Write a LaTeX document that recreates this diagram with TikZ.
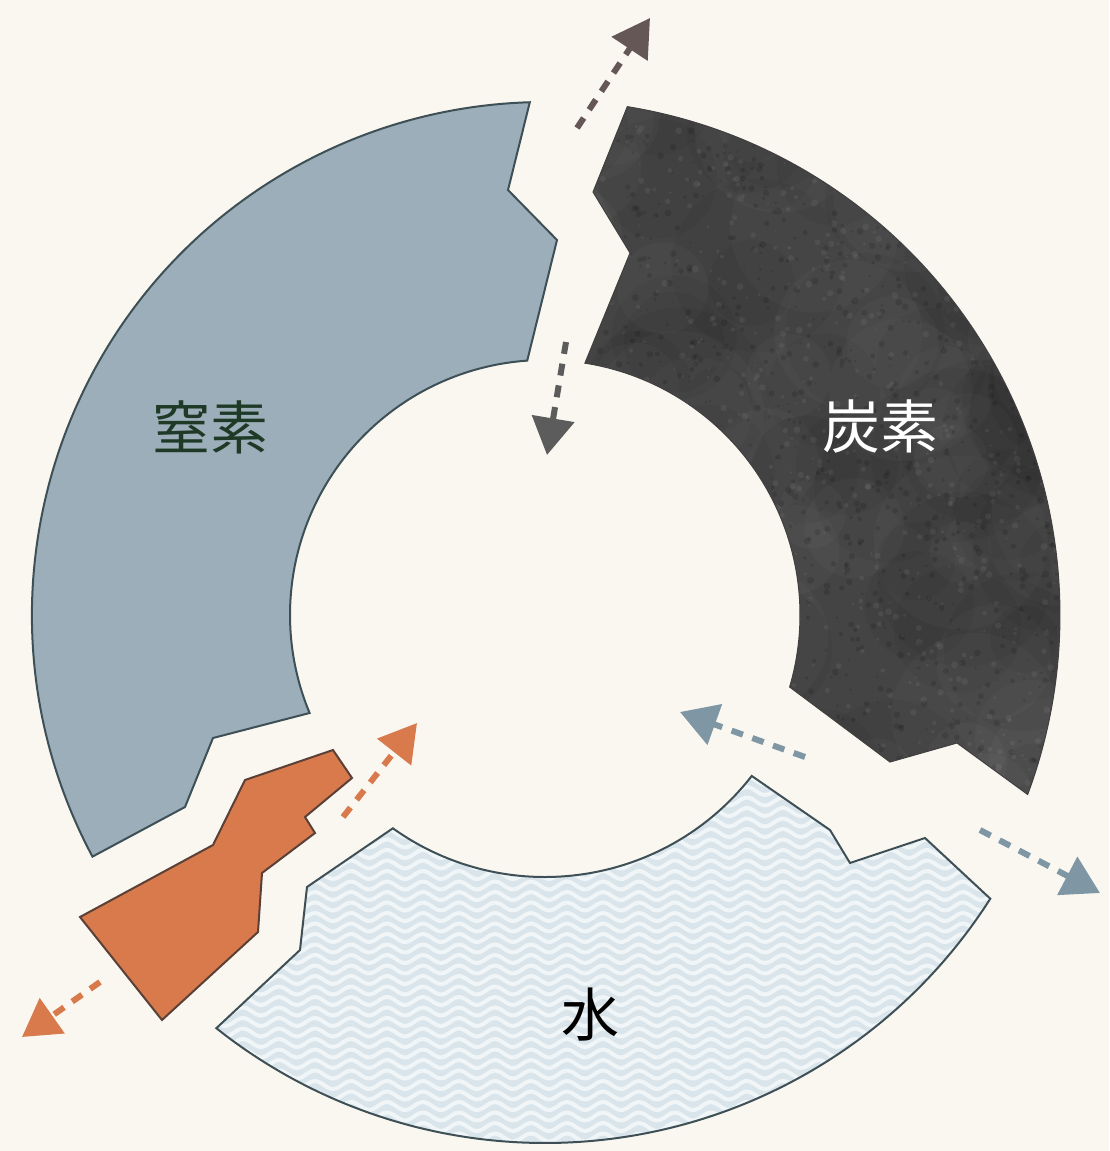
\documentclass[tikz,border=0pt]{standalone}
\usepackage{fontspec}
\newfontfamily\cjk{Noto Sans CJK JP}
\usetikzlibrary{arrows.meta}
\definecolor{bg}{HTML}{FAF7F1}
\definecolor{nitrofill}{HTML}{9CAEB9}
\definecolor{edge}{HTML}{3E5056}
\definecolor{carbfill}{HTML}{444444}
\definecolor{waterfill}{HTML}{DAE5EB}
\definecolor{wavecol}{HTML}{F0F5F8}
\definecolor{orangefill}{HTML}{D97A4C}
\definecolor{orangeedge}{HTML}{5A4036}
\definecolor{toparrow}{HTML}{655755}
\definecolor{midarrow}{HTML}{5C5C5C}
\definecolor{bluearrow}{HTML}{7F97A4}
\definecolor{nitrotext}{HTML}{1E3A26}
\begin{document}
\begin{tikzpicture}[x=1pt,y=-1pt,
  ringpart/.style={draw=edge, line width=2pt, line join=miter},
  flow/.style={line width=6pt, dash pattern=on 12pt off 10pt, line cap=butt,
    -{Triangle[length=37pt,width=42pt]}},
  lbl/.style={font=\cjk\fontsize{58}{60}\selectfont, inner sep=0pt}
]
\useasboundingbox (0,0) rectangle (1109,1151);
\fill[bg] (0,0) rectangle (1109,1151);
\coordinate (C) at (545,615);

% Nitrogen
\path[ringpart, fill=nitrofill]
  ([shift={(C)}]-91.7:513) -- (508,190) -- (557,240)
  -- ([shift={(C)}]-94:255) arc[start angle=-94, end angle=-202.6, radius=255]
  -- (213,738) -- (185,807)
  -- ([shift={(C)}]-208.1:513) arc[start angle=-208.1, end angle=-91.7, radius=513]
  -- cycle;

% Carbon
\def\carbpath{([shift={(C)}]-80.8:515) -- (593,192) -- (630,253)
  -- ([shift={(C)}]-81:255) arc[start angle=-81, end angle=16.4, radius=255]
  -- (890,762) -- (957,743)
  -- ([shift={(C)}]20.4:515) arc[start angle=20.4, end angle=-80.8, radius=515]
  -- cycle}
\fill[carbfill] \carbpath;
\begin{scope}
  \clip \carbpath;
  \pgfmathsetseed{7}
  \foreach \i in {1,...,60} {
    \fill[white, opacity=0.025] ({560+rnd*520},{90+rnd*720}) circle ({30+rnd*60});
  }
  \foreach \i in {1,...,60} {
    \fill[black, opacity=0.04] ({560+rnd*520},{90+rnd*720}) circle ({30+rnd*60});
  }
  \foreach \i in {1,...,1200} {
    \fill[black, opacity=0.12] ({560+rnd*520},{90+rnd*720}) circle ({1+rnd*2.5});
  }
  \foreach \i in {1,...,800} {
    \fill[white, opacity=0.06] ({560+rnd*520},{90+rnd*720}) circle ({1+rnd*2.5});
  }
\end{scope}
\draw[line width=1pt, draw=black!75] \carbpath;

% Water
\def\waterpath{([shift={(C)}]125.5:262) arc[start angle=125.5, end angle=37.9, radius=262]
  -- (830,830) -- (850,863) -- (925,838)
  -- ([shift={(C)}]32.5:528) arc[start angle=32.5, end angle=128.5, radius=528]
  -- (300,950) -- (307,887) -- cycle}
\fill[waterfill] \waterpath;
\begin{scope}
  \clip \waterpath;
  \foreach \k in {0,...,37} {
    \draw[wavecol, line width=4pt] plot[domain=200:1010, samples=160, smooth]
      (\x, {770+\k*10.5+4*sin(\x*10)});
  }
\end{scope}
\draw[ringpart] \waterpath;

% Orange piece
\path[draw=orangeedge, line width=2pt, fill=orangefill]
  (80,917) -- (213,845) -- (245,780) -- (333,750) -- (352,778)
  -- (305,817) -- (315,833) -- (262,873) -- (258,932) -- (162,1020) -- cycle;

% Labels
\node[lbl, text=nitrotext] (nlabel) at (210,427) {窒素};
\node[lbl, text=white] (clabel) at (880,426) {炭素};
\node[lbl, text=black] (wlabel) at (590,1015) {水};

% Arrows
\coordinate (t1s) at (577,128); \coordinate (t1e) at (650,18);
\coordinate (t2s) at (566,342); \coordinate (t2e) at (547,455);
\coordinate (o1s) at (343,817); \coordinate (o1e) at (417,723);
\coordinate (o2s) at (100,982); \coordinate (o2e) at (22,1037);
\coordinate (b1s) at (805,757); \coordinate (b1e) at (680,712);
\coordinate (b2s) at (980,830); \coordinate (b2e) at (1100,893);
\draw[flow, toparrow] (t1s) -- (t1e);
\draw[flow, midarrow] (t2s) -- (t2e);
\draw[flow, orangefill] (o1s) -- (o1e);
\draw[flow, orangefill] (o2s) -- (o2e);
\draw[flow, bluearrow] (b1s) -- (b1e);
\draw[flow, bluearrow] (b2s) -- (b2e);
\end{tikzpicture}
\end{document}
